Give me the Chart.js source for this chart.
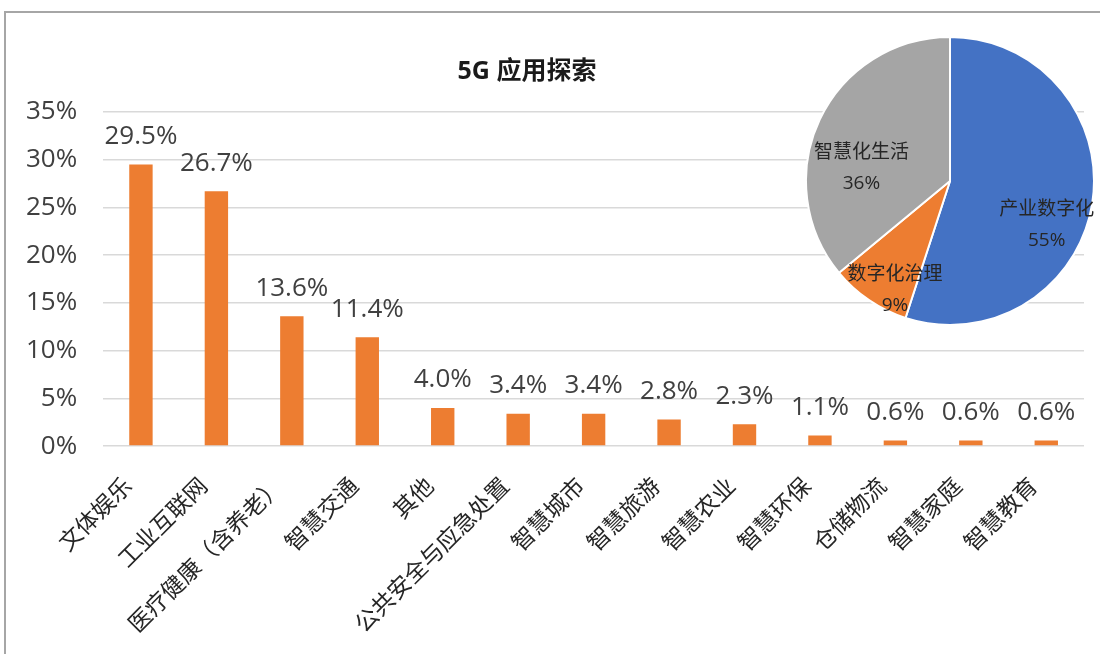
<!DOCTYPE html>
<html>
<head>
<meta charset="utf-8">
<script src="https://cdn.jsdelivr.net/npm/chart.js@4.4.0/dist/chart.umd.min.js"></script>
<style>
  html, body { margin: 0; padding: 0; background: #fff; }
  #wrap { position: relative; width: 1100px; height: 654px; overflow: hidden; }
  #frame { position: absolute; left: 4px; top: 11px; width: 1100px; height: 660px;
           border-top: 2px solid #a6a6a6; border-left: 2px solid #a6a6a6; }
  #bar { position: absolute; left: 0; top: 0; }
  #pie { position: absolute; left: 805px; top: 36px; }
</style>
</head>
<body>
<div id="wrap">
  <div id="frame"></div>
  <canvas id="bar" width="1100" height="680"></canvas>
  <canvas id="pie" width="290" height="290"></canvas>
</div>
<script>
const chartTitle = '5G 应用探索';
const categories = ['文体娱乐', '工业互联网', '医疗健康（含养老）', '智慧交通', '其他', '公共安全与应急处置',
    '智慧城市', '智慧旅游', '智慧农业', '智慧环保', '仓储物流', '智慧家庭', '智慧教育'];
const shares = [29.5, 26.7, 13.6, 11.4, 4.0, 3.4, 3.4, 2.8, 2.3, 1.1, 0.6, 0.6, 0.6];
const yTickLabels = ['0%', '5%', '10%', '15%', '20%', '25%', '30%', '35%'];

const pieCategories = ['产业数字化', '数字化治理', '智慧化生活'];
const pieShares = [55, 9, 36];

const FONT = "'Open Sans', 'Noto Sans CJK SC', sans-serif";
const ORANGE = '#ED7D31';

// title drawn at a fixed spot (it sits left of the plot centre in the original)
const titlePlugin = {
    id: 'fixedTitle',
    afterDraw(chart, args, opts) {
        const ctx = chart.ctx;
        ctx.save();
        ctx.font = 'bold 25px ' + FONT;
        ctx.fillStyle = '#1a1a1a';
        ctx.textAlign = 'center';
        ctx.textBaseline = 'middle';
        ctx.fillText(opts.text, opts.x, opts.y);
        ctx.restore();
    }
};

// value labels above each bar
const barLabels = {
    id: 'barLabels',
    afterDatasetsDraw(chart) {
        const ctx = chart.ctx;
        const meta = chart.getDatasetMeta(0);
        ctx.save();
        ctx.font = '26px ' + FONT;
        ctx.fillStyle = '#404040';
        ctx.textAlign = 'center';
        ctx.textBaseline = 'middle';
        meta.data.forEach((bar, i) => {
            ctx.fillText(shares[i].toFixed(1) + '%', bar.x, bar.y - 28);
        });
        ctx.restore();
    }
};

new Chart(document.getElementById('bar'), {
    type: 'bar',
    data: {
        labels: categories,
        datasets: [{
            data: shares,
            backgroundColor: ORANGE,
            barPercentage: 0.31,
            categoryPercentage: 1
        }]
    },
    options: {
        responsive: false,
        animation: false,
        layout: { padding: { left: 0, right: 16, top: 112, bottom: 14 } },
        plugins: {
            legend: { display: false },
            tooltip: { enabled: false },
            fixedTitle: { text: chartTitle, x: 527, y: 72 }
        },
        scales: {
            x: {
                grid: { display: false, drawTicks: false },
                border: { display: false },
                ticks: {
                    autoSkip: false, minRotation: 45, maxRotation: 45,
                    padding: 27, labelOffset: -12,
                    color: '#262626', font: { family: FONT, size: 23 }
                }
            },
            y: {
                min: 0, max: 35,
                grid: { color: '#d9d9d9', lineWidth: 1.5, drawTicks: false },
                border: { display: false },
                ticks: {
                    stepSize: 5, padding: 26, color: '#404040',
                    font: { family: FONT, size: 26 },
                    callback: (v, i) => yTickLabels[i]
                }
            }
        }
    },
    plugins: [titlePlugin, barLabels]
});

// slice names and shares inside the pie
const pieText = {
    id: 'pieText',
    afterDatasetsDraw(chart) {
        const ctx = chart.ctx;
        const meta = chart.getDatasetMeta(0);
        ctx.save();
        ctx.font = '19px ' + FONT;
        ctx.fillStyle = '#262626';
        ctx.textAlign = 'center';
        ctx.textBaseline = 'middle';
        meta.data.forEach((arc, i) => {
            const mid = (arc.startAngle + arc.endAngle) / 2;
            const r = arc.outerRadius * 0.68;
            const x = arc.x + Math.cos(mid) * r;
            const y = arc.y + Math.sin(mid) * r + 28;
            ctx.fillText(pieCategories[i], x, y - 15);
            ctx.fillText(pieShares[i] + '%', x, y + 16);
        });
        ctx.restore();
    }
};

new Chart(document.getElementById('pie'), {
    type: 'pie',
    data: {
        labels: pieCategories,
        datasets: [{
            data: pieShares,
            backgroundColor: ['#4472C4', ORANGE, '#A5A5A5'],
            borderColor: '#ffffff',
            borderWidth: 2
        }]
    },
    options: {
        responsive: false,
        animation: false,
        plugins: { legend: { display: false }, tooltip: { enabled: false } }
    },
    plugins: [pieText]
});
</script>
</body>
</html>
